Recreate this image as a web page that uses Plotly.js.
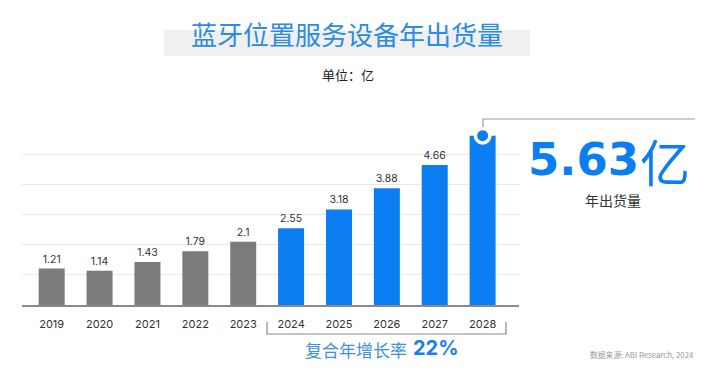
<!DOCTYPE html>
<html>
<head>
<meta charset="utf-8">
<script src="https://cdn.plot.ly/plotly-3.0.1.min.js"></script>
<style>
  html, body { margin: 0; padding: 0; background: #ffffff; }
  #chart { width: 719px; height: 391px; }
</style>
</head>
<body>
<div id="chart"></div>
<script>
// ---- data ----
const years = ['2019','2020','2021','2022','2023','2024','2025','2026','2027','2028'];
const shipments = [1.21, 1.14, 1.43, 1.79, 2.1, 2.55, 3.18, 3.88, 4.66, 5.63];
const isForecast = [false, false, false, false, false, true, true, true, true, true];
const highlightYear = '2028';
const highlightValue = 5.63;
const titleText = '蓝牙位置服务设备年出货量';
const unitText = '单位：亿';
const highlightLabel = '5.63';
const highlightUnit = '亿';
const highlightSub = '年出货量';
const cagrLabel = '复合年增长率';
const cagrValue = '22%';
const sourceText = '数据来源: ABI Research, 2024';

// ---- geometry helpers (pixel -> paper) ----
const W = 719, H = 391;
const L = 22, R = 519, T = 124, B = 305;
const px = p => (p - L) / (R - L);
const py = p => (B - p) / (B - T);

const GRAY = '#7b7b7b';
const BLUE = '#0b7ef2';
const CJK = '"Noto Sans CJK SC", "Noto Sans", sans-serif';
const NUM = 'Inter, "Noto Sans CJK SC", sans-serif';

const barColors = isForecast.map(f => f ? BLUE : GRAY);
const barText = shipments.map((v, i) => years[i] === highlightYear ? '' : String(v));

const bars = {
  type: 'bar',
  x: years,
  y: shipments,
  marker: { color: barColors, line: { width: 0 } },
  text: barText,
  textposition: 'outside',
  textfont: { family: NUM, size: 10.5, color: '#333333' },
  cliponaxis: false,
  hoverinfo: 'skip'
};

const dot = {
  type: 'scatter',
  mode: 'markers',
  x: [highlightYear],
  y: [highlightValue],
  marker: { size: 14.5, color: BLUE, line: { color: '#ffffff', width: 3.5 } },
  cliponaxis: false,
  hoverinfo: 'skip'
};

const layout = {
  width: W, height: H,
  margin: { l: L, r: W - R, t: T, b: H - B, pad: 0 },
  paper_bgcolor: '#ffffff',
  plot_bgcolor: '#ffffff',
  showlegend: false,
  bargap: 0.457,
  font: { family: NUM, color: '#333333' },
  xaxis: {
    type: 'category',
    range: [-0.62, 9.76],
    showgrid: false,
    zeroline: false,
    showline: true,
    linecolor: '#8a8a8a',
    linewidth: 1.5,
    ticks: '',
    ticklabelstandoff: 8,
    tickfont: { family: NUM, size: 11, color: '#333333' },
    fixedrange: true
  },
  yaxis: {
    range: [0, 6.02],
    dtick: 1,
    showgrid: true,
    gridcolor: '#e8e8e8',
    gridwidth: 1,
    zeroline: false,
    showline: false,
    showticklabels: false,
    ticks: '',
    fixedrange: true
  },
  shapes: [
    { type: 'rect', xref: 'paper', yref: 'paper', layer: 'below',
      x0: px(164), x1: px(530), y0: py(56), y1: py(30),
      fillcolor: '#f0f0f0', line: { width: 0 } },
    { type: 'path', xref: 'paper', yref: 'paper',
      path: `M ${px(483)} ${py(127)} L ${px(483)} ${py(119)} L ${px(695)} ${py(119)}`,
      line: { color: '#9a9a9a', width: 1.2 } },
    { type: 'path', xref: 'paper', yref: 'paper',
      path: `M ${px(267)} ${py(322)} L ${px(267)} ${py(334)} L ${px(506)} ${py(334)} L ${px(506)} ${py(322)}`,
      line: { color: '#8a8a8a', width: 1.2 } }
  ],
  annotations: [
    { xref: 'paper', yref: 'paper', x: px(347), y: py(34), xanchor: 'center', yanchor: 'middle',
      text: titleText, showarrow: false,
      font: { family: CJK, size: 26, color: '#2b8be6' } },
    { xref: 'paper', yref: 'paper', x: px(348), y: py(74), xanchor: 'center', yanchor: 'middle',
      text: unitText, showarrow: false,
      font: { family: CJK, size: 13, color: '#222222' } },
    { xref: 'paper', yref: 'paper', x: px(641), y: py(159), xanchor: 'right', yanchor: 'middle',
      text: highlightLabel, showarrow: false,
      font: { family: '"DejaVu Sans", sans-serif', size: 45, color: BLUE, weight: 'bold' } },
    { xref: 'paper', yref: 'paper', x: px(638), y: py(160), xanchor: 'left', yanchor: 'middle',
      text: highlightUnit, showarrow: false,
      font: { family: CJK, size: 50, color: BLUE } },
    { xref: 'paper', yref: 'paper', x: px(613), y: py(200), xanchor: 'center', yanchor: 'middle',
      text: highlightSub, showarrow: false,
      font: { family: CJK, size: 14, color: '#333333' } },
    { xref: 'paper', yref: 'paper', x: px(409), y: py(349), xanchor: 'right', yanchor: 'middle',
      text: cagrLabel, showarrow: false,
      font: { family: CJK, size: 17, color: '#3d8fe0' } },
    { xref: 'paper', yref: 'paper', x: px(411), y: py(348), xanchor: 'left', yanchor: 'middle',
      text: cagrValue, showarrow: false,
      font: { family: NUM, size: 20, color: '#1a7fe8', weight: 'bold' } },
    { xref: 'paper', yref: 'paper', x: px(588), y: py(354), xanchor: 'left', yanchor: 'middle',
      text: sourceText, showarrow: false,
      font: { family: CJK, size: 7.8, color: '#999999' } }
  ]
};

Plotly.newPlot('chart', [bars, dot], layout, { staticPlot: true, displayModeBar: false });
</script>
</body>
</html>
